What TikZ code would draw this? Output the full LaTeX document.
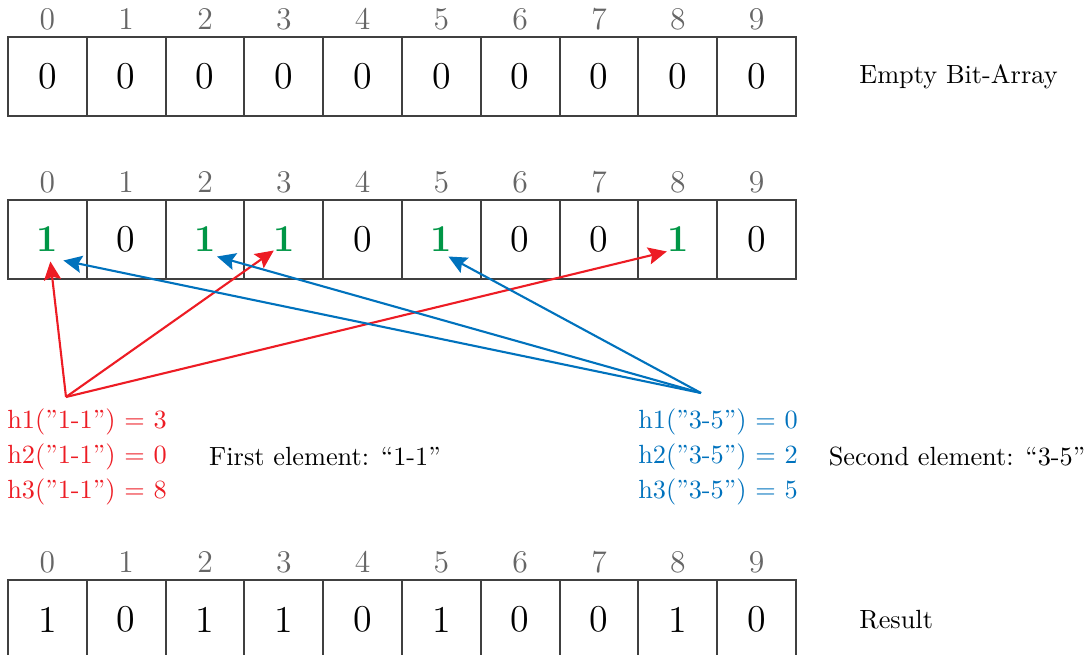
\documentclass[tikz,border=0pt]{standalone}
\usepackage{amsmath}
\usepackage{tikz}
\usetikzlibrary{positioning, calc, arrows.meta}

\definecolor{hashred}{RGB}{237,28,36}
\definecolor{hashblue}{RGB}{0,114,189}
\definecolor{bitgreen}{RGB}{0,150,70}

\newcommand{\bitone}{\textcolor{bitgreen}{\textbf{1}}}

\begin{document}
\begin{tikzpicture}[x=0.38pt, y=-0.38pt,
        cell/.style={draw=black!75, line width=0.7pt, minimum width=29.94pt, minimum height=30.02pt, inner sep=0pt, font=\Large},
        idx/.style={font=\large, text=black!60},
        hashlab/.style={font=\fontsize{10}{13.3}\selectfont, align=right},
        ptr/.style={line width=0.8pt, -{Stealth[length=7pt, width=6.5pt, inset=1.2pt]}}
    ]
    \useasboundingbox (0,0) rectangle (1087,655);

    % empty array
    \foreach \v [count=\i from 0] in {0,0,0,0,0,0,0,0,0,0} {
        \node[cell] (a\i) at ({8+78.8*(\i+0.5)}, 76.5) {\v};
        \node[idx] at ([yshift=6.5pt]a\i.north) {\i};
    }
    \node[right=20.2pt of a9] (emptylab) {Empty Bit-Array};

    % after inserting both elements
    \foreach \v [count=\i from 0] in {\bitone,0,\bitone,\bitone,0,\bitone,0,0,\bitone,0} {
        \node[cell] (b\i) at ({8+78.8*(\i+0.5)}, 239.5) {\v};
        \node[idx] at ([yshift=6.5pt]b\i.north) {\i};
    }

    % result
    \foreach \v [count=\i from 0] in {1,0,1,1,0,1,0,0,1,0} {
        \node[cell] (c\i) at ({8+78.8*(\i+0.5)}, 619.5) {\v};
        \node[idx] at ([yshift=6.5pt]c\i.north) {\i};
    }
    \node[right=20.2pt of c9] (resultlab) {Result};

    \node[hashlab, text=hashred] (firsthash) at (87,457) {h1(”1-1”) $=$ 3\\ h2(”1-1”) $=$ 0\\ h3(”1-1”) $=$ 8};
    \node (firstname) at (325,457) {First element: “1-1”};

    \node[hashlab, text=hashblue] (secondhash) at (718,457) {h1(”3-5”) $=$ 0\\ h2(”3-5”) $=$ 2\\ h3(”3-5”) $=$ 5};
    \node (secondname) at (957,457) {Second element: “3-5”};

    \coordinate (first) at (66,397);
    \coordinate (second) at (701,393);

    \draw[ptr, hashred] (first) -- ([shift={(3,22)}]b0.center);
    \draw[ptr, hashred] (first) -- ([shift={(-10,11)}]b3.center);
    \draw[ptr, hashred] (first) -- ([shift={(-11,12)}]b8.center);

    \draw[ptr, hashblue] (second) -- ([shift={(16,21)}]b0.center);
    \draw[ptr, hashblue] (second) -- ([shift={(12,17)}]b2.center);
    \draw[ptr, hashblue] (second) -- ([shift={(7,17)}]b5.center);

\end{tikzpicture}
\end{document}
